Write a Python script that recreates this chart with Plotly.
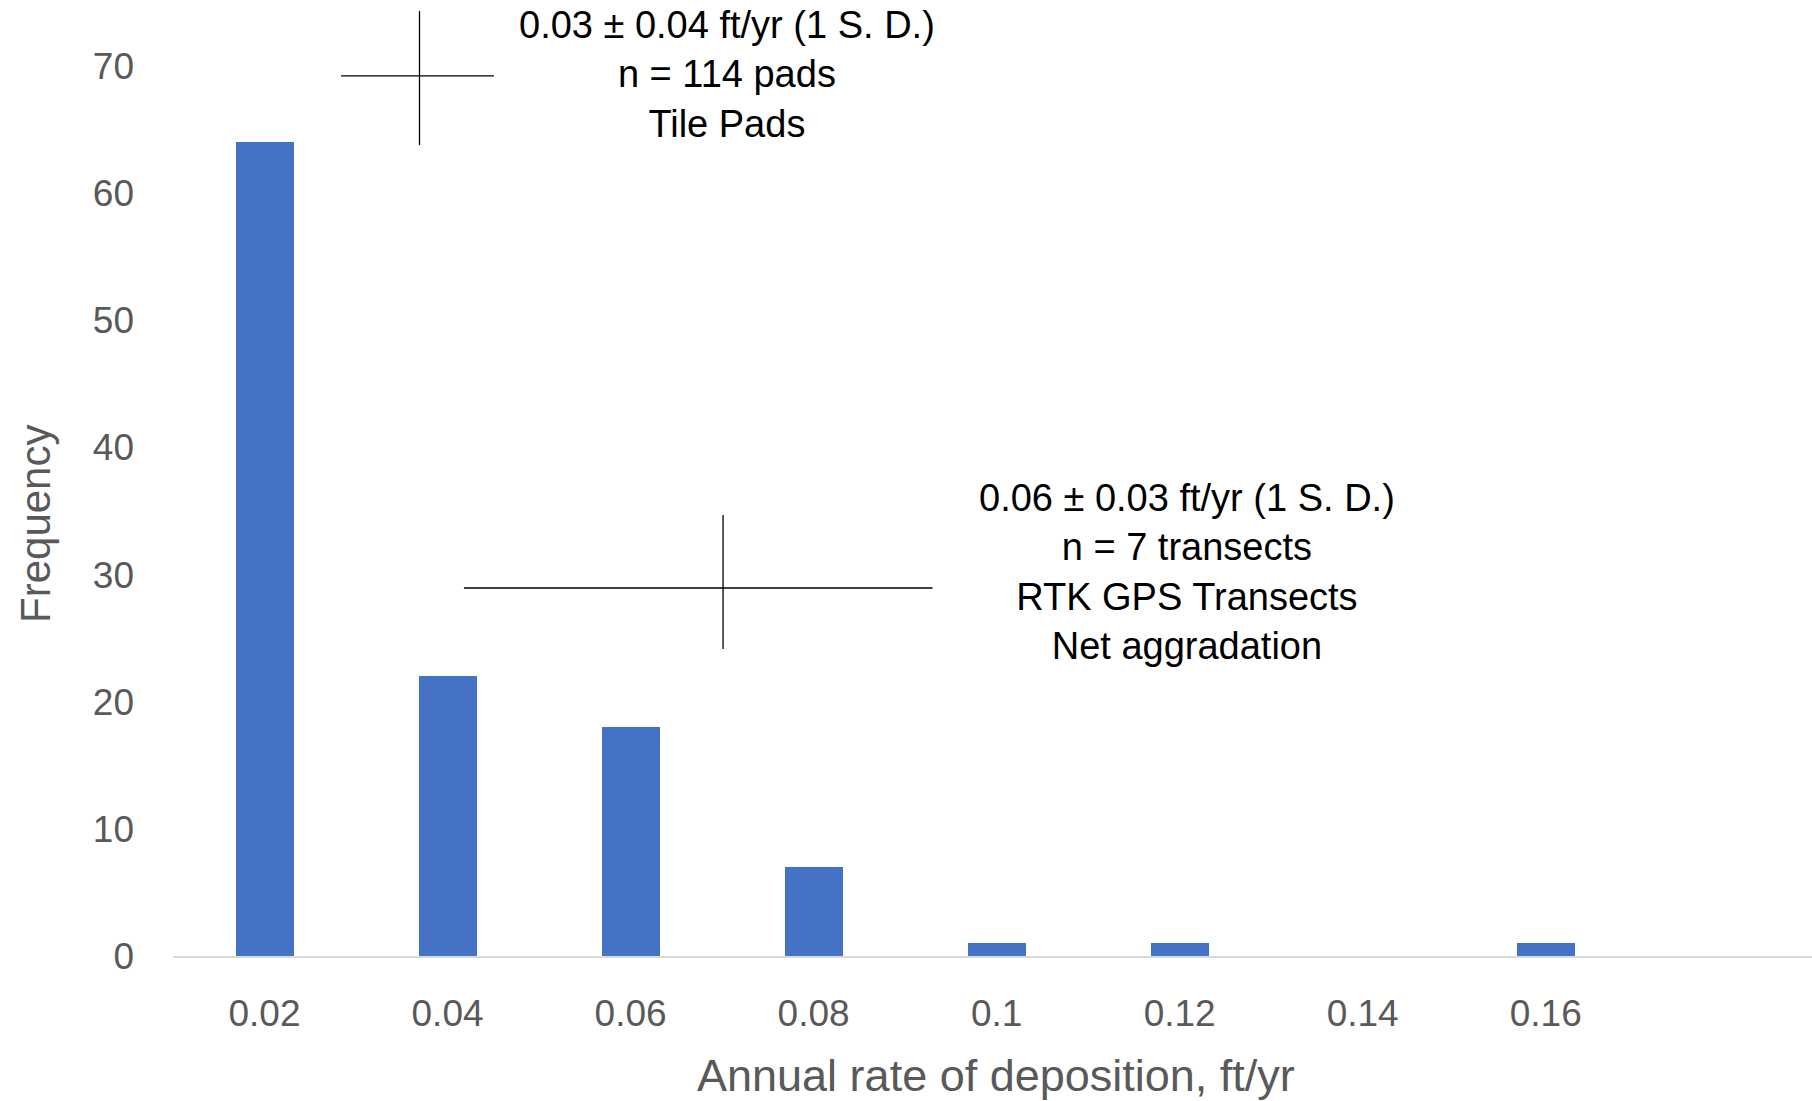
import plotly.graph_objects as go

# Histogram of annual deposition rates
bin_labels = ["0.02", "0.04", "0.06", "0.08", "0.1", "0.12", "0.14", "0.16"]
bin_centers = [0.02, 0.04, 0.06, 0.08, 0.10, 0.12, 0.14, 0.16]
frequency = [64, 22, 18, 7, 1, 1, 0, 1]

y_ticks = [0, 10, 20, 30, 40, 50, 60, 70]

tile_pad_text = ["0.03 ± 0.04 ft/yr (1 S. D.)", "n = 114 pads", "Tile Pads"]
transect_text = ["0.06 ± 0.03 ft/yr (1 S. D.)", "n = 7 transects",
                 "RTK GPS Transects", "Net aggradation"]

FONT = "Liberation Sans, Arial, sans-serif"
GRAY = "#595959"

fig = go.Figure()
fig.add_trace(go.Bar(
    x=bin_centers,
    y=frequency,
    width=0.00634,
    marker=dict(color="#4472C4", line=dict(width=0)),
    showlegend=False,
))

# Summary statistic crosses (paper coordinates)
cross_line = dict(color="#000000", width=1.3)
shapes = [
    dict(type="line", xref="paper", yref="paper", x0=0.1504, x1=0.1504, y0=1.0618, y1=0.9112, line=cross_line),
    dict(type="line", xref="paper", yref="paper", x0=0.1025, x1=0.1958, y0=0.9888, y1=0.9888, line=cross_line),
    dict(type="line", xref="paper", yref="paper", x0=0.3356, x1=0.3356, y0=0.4955, y1=0.3449, line=cross_line),
    dict(type="line", xref="paper", yref="paper", x0=0.1775, x1=0.4634, y0=0.4135, y1=0.4135, line=cross_line),
]

annotations = [
    dict(text="<br>".join(tile_pad_text), xref="paper", yref="paper",
         x=0.3380, y=0.9899, xanchor="center", yanchor="middle", showarrow=False,
         align="center", font=dict(family=FONT, size=38, color="#000000")),
    dict(text="<br>".join(transect_text), xref="paper", yref="paper",
         x=0.6187, y=0.432, xanchor="center", yanchor="middle", showarrow=False,
         align="center", font=dict(family=FONT, size=38, color="#000000")),
    dict(text="Frequency", xref="paper", yref="paper", x=-0.0836, y=0.4854,
         xanchor="center", yanchor="middle", textangle=-90, showarrow=False,
         font=dict(family=FONT, size=42, color=GRAY)),
    dict(text="Annual rate of deposition, ft/yr", xref="paper", yref="paper",
         x=0.502, y=-0.1348, xanchor="center", yanchor="middle", showarrow=False,
         font=dict(family=FONT, size=45, color=GRAY)),
]

fig.update_layout(
    width=1812,
    height=1101,
    margin=dict(l=173, r=0, t=66, b=145, pad=0),
    paper_bgcolor="#ffffff",
    plot_bgcolor="#ffffff",
    shapes=shapes,
    annotations=annotations,
    bargap=0,
    xaxis=dict(
        range=[0.01, 0.1891],
        tickvals=bin_centers,
        ticktext=bin_labels,
        showgrid=False,
        zeroline=False,
        showline=True,
        linecolor="#d9d9d9",
        linewidth=2,
        ticks="",
        ticklabelstandoff=24,
        tickfont=dict(family=FONT, size=37, color=GRAY),
    ),
    yaxis=dict(
        range=[0, 70],
        tickvals=y_ticks,
        ticktext=[str(v) for v in y_ticks],
        showgrid=False,
        zeroline=False,
        showline=False,
        ticks="",
        ticklabelstandoff=38,
        tickfont=dict(family=FONT, size=37, color=GRAY),
    ),
)

fig.write_html("out.html")
